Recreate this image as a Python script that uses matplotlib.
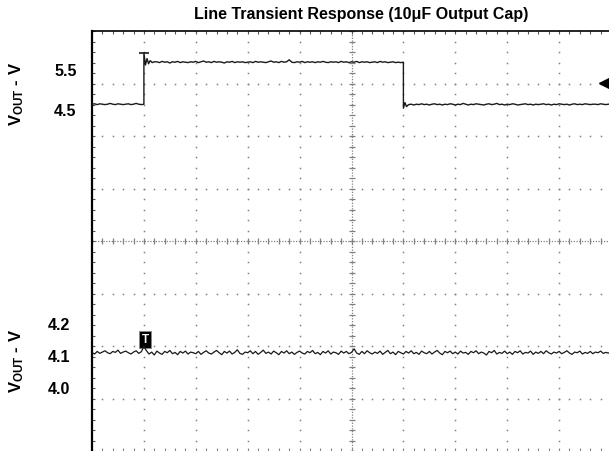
import numpy as np
import matplotlib.pyplot as plt

plt.rcParams["font.family"] = ["Liberation Sans", "DejaVu Sans"]
plt.rcParams["mathtext.fontset"] = "custom"
plt.rcParams["mathtext.rm"] = "Liberation Sans"
plt.rcParams["mathtext.bf"] = "Liberation Sans:bold"

# === DATA (time in scope divisions, 10 div across) ===
upper_ticks = [4.5, 5.5]
lower_ticks = [4.0, 4.1, 4.2]

# upper trace (V)
v_before = [4.62, 4.63, 4.61, 4.63, 4.62, 4.61, 4.62, 4.64, 4.62, 4.61, 4.63,
            4.62, 4.61, 4.62, 4.63, 4.61, 4.62, 4.64, 4.62, 4.61, 4.62]
t_rise = [1.0, 1.0, 1.03, 1.06, 1.09, 1.12, 1.16, 1.2]
v_rise = [4.62, 5.90, 5.60, 5.76, 5.63, 5.71, 5.66, 5.68]
v_high = [5.68, 5.66, 5.69, 5.67, 5.68, 5.65, 5.68, 5.67, 5.69, 5.66, 5.68, 5.67,
          5.66, 5.68, 5.67, 5.69, 5.66, 5.68, 5.70, 5.67, 5.68, 5.66, 5.69, 5.67,
          5.68, 5.67, 5.65, 5.68, 5.67, 5.69, 5.66, 5.68, 5.67, 5.68, 5.66, 5.67,
          5.68, 5.66, 5.69, 5.67, 5.68, 5.67, 5.66, 5.68, 5.70, 5.67, 5.68, 5.66,
          5.69, 5.67, 5.68, 5.73, 5.67, 5.66, 5.68, 5.67, 5.69, 5.66, 5.68, 5.67,
          5.68, 5.66, 5.68, 5.67, 5.69, 5.67, 5.66, 5.68, 5.67, 5.68, 5.66, 5.69,
          5.67, 5.68, 5.66, 5.68, 5.67, 5.69, 5.66, 5.68, 5.67, 5.68, 5.66, 5.67,
          5.68, 5.66, 5.69, 5.67, 5.68, 5.66, 5.67, 5.68, 5.66, 5.67, 5.66, 5.67]
t_fall = [6.0, 6.0, 6.03, 6.06, 6.1]
v_fall = [5.67, 4.52, 4.66, 4.56, 4.61]
v_after = [4.62, 4.60, 4.62, 4.61, 4.63, 4.61, 4.62, 4.60, 4.62, 4.63, 4.61, 4.62,
           4.60, 4.62, 4.61, 4.63, 4.62, 4.60, 4.62, 4.61, 4.64, 4.62, 4.60, 4.62,
           4.61, 4.63, 4.62, 4.61, 4.60, 4.62, 4.63, 4.61, 4.62, 4.64, 4.61, 4.62,
           4.60, 4.62, 4.61, 4.63, 4.62, 4.60, 4.61, 4.62, 4.63, 4.61, 4.62, 4.60,
           4.62, 4.61, 4.62, 4.63, 4.61, 4.62, 4.60, 4.62, 4.61, 4.63, 4.62, 4.61,
           4.62, 4.60, 4.62, 4.63, 4.61, 4.62, 4.61, 4.63, 4.62, 4.61, 4.62, 4.62,
           4.61, 4.63, 4.62, 4.61, 4.62, 4.62]

# lower trace (mV)
lower_mv = [4108, 4103, 4111, 4105, 4109, 4113, 4107, 4104, 4111, 4108, 4115, 4105, 4109, 4112, 4107, 4103, 4109, 4113, 4105, 4110,
            4126, 4113, 4103, 4109, 4100, 4112, 4106, 4102, 4111, 4107, 4114, 4104, 4108, 4101, 4111, 4106, 4112, 4103, 4109, 4107,
            4104, 4111, 4102, 4108, 4113, 4106, 4103, 4109, 4114, 4107, 4101, 4111, 4106, 4112, 4103, 4108, 4116, 4105, 4102, 4109,
            4107, 4113, 4104, 4111, 4102, 4108, 4115, 4105, 4109, 4103, 4112, 4107, 4101, 4111, 4106, 4113, 4104, 4109, 4102, 4108,
            4112, 4106, 4103, 4111, 4107, 4114, 4104, 4108, 4101, 4111, 4106, 4113, 4103, 4109, 4107, 4102, 4112, 4106, 4111, 4104,
            4108, 4119, 4106, 4102, 4111, 4104, 4113, 4107, 4103, 4109, 4105, 4112, 4102, 4108, 4114, 4104, 4109, 4101, 4111, 4107,
            4103, 4111, 4106, 4113, 4104, 4108, 4102, 4112, 4107, 4104, 4111, 4103, 4109, 4114, 4106, 4101, 4111, 4107, 4112, 4104,
            4109, 4103, 4112, 4106, 4108, 4102, 4111, 4107, 4113, 4104, 4109, 4106, 4100, 4111, 4107, 4114, 4103, 4108, 4105, 4112,
            4104, 4109, 4102, 4111, 4107, 4113, 4103, 4108, 4106, 4112, 4102, 4109, 4105, 4111, 4104, 4113, 4107, 4103, 4109, 4106,
            4111, 4104, 4108, 4113, 4106, 4102, 4109, 4107, 4112, 4103, 4108, 4105, 4111, 4104, 4109, 4107, 4112, 4105, 4108, 4106, 4109]

t_before = np.linspace(0.0, 1.0, len(v_before))
t_high = np.linspace(1.25, 6.0, len(v_high))
t_after = np.linspace(6.15, 10.0, len(v_after))
t_upper = np.concatenate([t_before, t_rise, t_high, t_fall, t_after])
v_upper = np.concatenate([v_before, v_rise, v_high, v_fall, v_after])
t_lower = np.linspace(0.0, 10.0, len(lower_mv))
v_lower = np.array(lower_mv) / 1000.0

W, H = 609, 452
fig = plt.figure(figsize=(W / 100, H / 100), dpi=100)
left, width = 92 / W, 519 / W
scope_rect = [left, 0.0, width, 420 / H]

# --- graticule ---
ax = fig.add_axes(scope_rect)
ax.set_xlim(0, 10)
ax.set_ylim(0, 8)
ax.set_xticks([])
ax.set_yticks([])
for s in ["right", "bottom"]:
    ax.spines[s].set_visible(False)
ax.spines["left"].set_linewidth(1.6)
ax.spines["top"].set_linewidth(1.2)

gc = "#808080"
xs = np.arange(0, 10.001, 0.2)
ys = np.arange(0, 8.001, 0.2)
for i in range(1, 10):
    if i != 5:
        ax.plot(np.full(len(ys), i), ys, ls="none", marker="s", ms=1.1, color=gc, mew=0)
for j in range(1, 8):
    if j != 4:
        ax.plot(xs, np.full(len(xs), j), ls="none", marker="s", ms=1.1, color=gc, mew=0)
# centre axes with minor ticks
ax.plot([5, 5], [0, 8], ls=(0, (1, 1.2)), color=gc, lw=0.9)
ax.plot([0, 10], [4, 4], ls=(0, (1, 1.2)), color=gc, lw=0.9)
ax.plot(np.full(len(ys), 5), ys, ls="none", marker="_", ms=5, mew=0.9, color=gc)
ax.plot(xs, np.full(len(xs), 4), ls="none", marker="|", ms=5, mew=0.9, color=gc)
# border ticks
ax.hlines(ys, 0, 0.06, color="#555555", lw=0.8)
ax.vlines(xs, 7.94, 8, color="#555555", lw=0.8)
ax.vlines(xs, 0, 0.06, color="#888888", lw=0.8)

# ground marker and trigger marker
ax.plot([9.86, 10], [7.01, 7.01], color="black", lw=1.2)
ax.plot(9.86, 7.01, marker="<", ms=6.5, color="black", ls="none")
ax.text(1.02, 2.13, "T", color="white", fontsize=8.5, fontweight="bold",
        ha="center", va="center",
        bbox=dict(boxstyle="square,pad=0.2", fc="black", ec="#888888", lw=0.6))

# --- upper trace ---
ax_up = fig.add_axes([left, 210 / H, width, 210 / H])
ax_up.patch.set_visible(False)
for s in ax_up.spines.values():
    s.set_visible(False)
ax_up.set_xlim(0, 10)
ax_up.set_ylim(1.2, 6.45)
ax_up.set_xticks([])
ax_up.set_yticks(upper_ticks)
ax_up.set_yticklabels([f"{v:.1f}" for v in upper_ticks], fontweight="bold", fontsize=11.5)
ax_up.tick_params(axis="y", length=0, pad=11)
ax_up.plot(t_upper, v_upper, color="#1a1a1a", lw=1.0)
ax_up.plot(t_rise[1], v_rise[1], marker="_", ms=7, mew=1.2, color="#1a1a1a")

# --- lower trace ---
ax_lo = fig.add_axes([left, 0.0, width, 210 / H])
ax_lo.patch.set_visible(False)
for s in ax_lo.spines.values():
    s.set_visible(False)
ax_lo.set_xlim(0, 10)
ax_lo.set_ylim(3.8046, 4.4508)
ax_lo.set_xticks([])
ax_lo.set_yticks(lower_ticks)
ax_lo.set_yticklabels([f"{v:.1f}" for v in lower_ticks], fontweight="bold", fontsize=11.5)
ax_lo.tick_params(axis="y", length=0, pad=16)
ax_lo.plot(t_lower, v_lower, color="#1a1a1a", lw=0.9)

# labels
ylab = r"$\mathbf{V_{OUT}}$ - V"
fig.text(17 / W, 1 - 94 / H, ylab, rotation=90, ha="center", va="center",
         fontsize=12, fontweight="bold")
fig.text(17 / W, 1 - 361 / H, ylab, rotation=90, ha="center", va="center",
         fontsize=12, fontweight="bold")
fig.text(361 / W, 1 - 15 / H, "Line Transient Response (10μF Output Cap)",
         ha="center", va="center", fontsize=11.5, fontweight="bold")

fig.savefig("out.png", dpi=100)
